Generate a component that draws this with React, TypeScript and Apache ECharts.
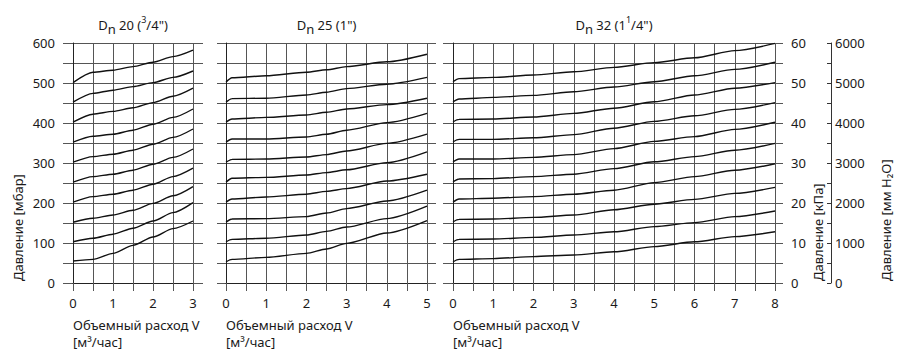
import React, { useEffect, useRef } from 'react';
import * as echarts from 'echarts';

// Flow rate V [m³/h] sample points per valve size
const FLOW_DN20 = [0, 0.5, 1, 1.5, 2, 2.5, 3];
const FLOW_DN25 = [0, 0.15, 1, 2, 2.5, 3, 4, 5];
const FLOW_DN32 = [0, 0.15, 1, 2, 3, 4, 5, 6, 7, 8];

// Pressure [mbar] curves (set points 500 … 50 mbar)
const DN20_P500 = [501, 527, 532, 541, 552, 566, 582];
const DN20_P450 = [452, 474, 482, 491, 501, 514, 530];
const DN20_P400 = [402, 422, 429, 438, 451, 467, 487];
const DN20_P350 = [352, 367, 372, 382, 397, 414, 435];
const DN20_P300 = [302, 316, 322, 332, 347, 364, 385];
const DN20_P250 = [252, 266, 272, 282, 297, 314, 335];
const DN20_P200 = [202, 216, 222, 232, 247, 266, 287];
const DN20_P150 = [152, 162, 170, 182, 199, 218, 241];
const DN20_P100 = [103, 112, 122, 137, 155, 176, 201];
const DN20_P50 = [55, 59, 74, 94, 115, 136, 155];

const DN25_P500 = [502, 513, 518, 527, 533, 541, 553, 572];
const DN25_P450 = [452, 461, 462, 470, 477, 486, 497, 514];
const DN25_P400 = [402, 410, 414, 420, 427, 435, 446, 462];
const DN25_P350 = [352, 360, 360, 365, 372, 382, 401, 424];
const DN25_P300 = [302, 309, 310, 315, 321, 330, 349, 372];
const DN25_P250 = [252, 262, 264, 270, 276, 283, 301, 328];
const DN25_P200 = [202, 210, 215, 222, 229, 236, 255, 272];
const DN25_P150 = [152, 160, 161, 166, 175, 186, 205, 232];
const DN25_P100 = [103, 109, 112, 120, 129, 140, 161, 192];
const DN25_P50 = [53, 59, 64, 74, 85, 99, 125, 156];

const DN32_P500 = [503, 511, 514, 520, 528, 539, 551, 563, 581, 599];
const DN32_P450 = [453, 460, 464, 469, 478, 490, 503, 518, 534, 552];
const DN32_P400 = [403, 409, 410, 415, 424, 437, 453, 470, 487, 501];
const DN32_P350 = [353, 359, 359, 363, 371, 387, 404, 418, 434, 451];
const DN32_P300 = [303, 310, 310, 314, 321, 336, 354, 366, 384, 402];
const DN32_P250 = [253, 260, 261, 266, 272, 286, 303, 316, 332, 349];
const DN32_P200 = [202, 210, 212, 216, 222, 232, 251, 266, 282, 298];
const DN32_P150 = [153, 159, 160, 164, 170, 183, 197, 209, 224, 239];
const DN32_P100 = [103, 109, 110, 114, 120, 128, 141, 151, 166, 180];
const DN32_P50 = [53, 59, 61, 66, 70, 78, 91, 103, 116, 128];

const DN20_CURVES = [DN20_P500, DN20_P450, DN20_P400, DN20_P350, DN20_P300, DN20_P250, DN20_P200, DN20_P150, DN20_P100, DN20_P50];
const DN25_CURVES = [DN25_P500, DN25_P450, DN25_P400, DN25_P350, DN25_P300, DN25_P250, DN25_P200, DN25_P150, DN25_P100, DN25_P50];
const DN32_CURVES = [DN32_P500, DN32_P450, DN32_P400, DN32_P350, DN32_P300, DN32_P250, DN32_P200, DN32_P150, DN32_P100, DN32_P50];

const X_MAX = [3, 5, 8];
const MBAR_MAX = 600;
const KPA_MAX = 60;
const MMH2O_MAX = 6000;

const TITLES = [
  '{n|D}{sub|n}{n| 20 (}{sup|3}{n|/4")}',
  '{n|D}{sub|n}{n| 25 (1")}',
  '{n|D}{sub|n}{n| 32 (1}{sup|1}{n|/4")}',
];
const X_NAME_1 = 'Объемный расход V';
const X_NAME_2 = '[м³/час]';
const Y_NAME_MBAR = 'Давление [мбар]';
const Y_NAME_KPA = 'Давление [кПа]';
const Y_NAME_MM = 'Давление [мм H₂O]';

const FONT = 'Noto Sans';
const TXT = '#1a1a1a';
const GRID_C = '#555';
const LINE_C = '#111';

export default function App() {
  const ref = useRef<HTMLDivElement>(null);

  useEffect(() => {
    document.body.style.margin = '0';
    if (!ref.current) return;
    const chart = echarts.init(ref.current, undefined, { renderer: 'svg' });

    const top = 43;
    const height = 240;
    const outer = [
      { left: 63, width: 140 },
      { left: 217, width: 219 },
      { left: 443, width: 340 },
    ];
    const inner = [
      { left: 73, width: 120 },
      { left: 226, width: 201 },
      { left: 453, width: 322 },
    ];
    const grids = [...outer, ...inner].map((g) => ({ ...g, top, height }));

    const xAxes: any[] = [];
    for (let i = 0; i < 3; i++) {
      xAxes.push({ type: 'value', gridIndex: i, min: 0, max: 1, show: false });
    }
    for (let i = 0; i < 3; i++) {
      xAxes.push({
        type: 'value',
        gridIndex: 3 + i,
        min: 0,
        max: X_MAX[i],
        interval: 0.5,
        axisLine: { show: true, lineStyle: { color: '#222', width: 1 } },
        axisTick: { show: true, length: 8, lineStyle: { color: GRID_C } },
        splitLine: { show: true, lineStyle: { color: GRID_C, width: 1 } },
        axisLabel: {
          margin: 13,
          color: TXT,
          fontSize: 13,
          fontFamily: FONT,
          formatter: (v: number) => (v % 1 === 0 ? String(v) : ''),
        },
      });
    }

    const yAxes: any[] = [];
    for (let i = 0; i < 3; i++) {
      yAxes.push({
        type: 'value',
        gridIndex: i,
        position: 'left',
        min: 0,
        max: MBAR_MAX,
        interval: 50,
        axisLine: { show: false },
        axisTick: { show: false },
        splitLine: { show: true, lineStyle: { color: GRID_C, width: 1 } },
        axisLabel: {
          show: i === 0,
          margin: 8,
          color: TXT,
          fontSize: 13,
          fontFamily: FONT,
          formatter: (v: number) => (v % 100 === 0 ? String(v) : ''),
        },
      });
    }
    for (let i = 0; i < 3; i++) {
      yAxes.push({
        type: 'value',
        gridIndex: 3 + i,
        min: 0,
        max: MBAR_MAX,
        interval: 50,
        axisLine: { show: true, lineStyle: { color: '#222', width: 1 } },
        axisTick: { show: false },
        axisLabel: { show: false },
        splitLine: { show: false },
      });
    }
    // kPa axis
    yAxes.push({
      type: 'value',
      gridIndex: 2,
      position: 'right',
      min: 0,
      max: KPA_MAX,
      interval: 10,
      axisLine: { show: false },
      axisTick: { show: false },
      splitLine: { show: false },
      axisLabel: { margin: 8, color: TXT, fontSize: 13, fontFamily: FONT },
    });
    // mm H2O axis
    yAxes.push({
      type: 'value',
      gridIndex: 2,
      position: 'right',
      offset: 48,
      min: 0,
      max: MMH2O_MAX,
      interval: 500,
      axisLine: { show: true, lineStyle: { color: '#333', width: 1 } },
      axisTick: { show: true, inside: true, length: 4, lineStyle: { color: '#333' } },
      splitLine: { show: false },
      axisLabel: {
        margin: 4,
        color: TXT,
        fontSize: 13,
        fontFamily: FONT,
        formatter: (v: number) => (v % 1000 === 0 ? String(v) : ''),
      },
    });

    const series: any[] = [];
    const panels = [
      { flow: FLOW_DN20, curves: DN20_CURVES },
      { flow: FLOW_DN25, curves: DN25_CURVES },
      { flow: FLOW_DN32, curves: DN32_CURVES },
    ];
    panels.forEach((p, pi) => {
      p.curves.forEach((c) => {
        series.push({
          type: 'line',
          xAxisIndex: 3 + pi,
          yAxisIndex: 3 + pi,
          data: p.flow.map((x, i) => [x, c[i]]),
          showSymbol: false,
          symbol: 'none',
          smooth: 0.25,
          smoothMonotone: 'x',
          silent: true,
          lineStyle: { color: LINE_C, width: 1.4 },
        });
      });
    });

    const titleRich = {
      n: { fontSize: 13, lineHeight: 20, fontFamily: FONT },
      sub: { fontSize: 13, lineHeight: 13, verticalAlign: 'bottom', fontFamily: FONT },
      sup: { fontSize: 9, lineHeight: 11, verticalAlign: 'top', fontFamily: FONT },
    };
    const graphic: any[] = [];
    inner.forEach((g, i) => {
      graphic.push({
        type: 'text',
        x: g.left + g.width / 2,
        y: 25,
        style: {
          text: TITLES[i],
          rich: titleRich,
          fill: TXT,
          fontSize: 13,
          fontFamily: FONT,
          align: 'center',
          verticalAlign: 'middle',
        },
      });
      graphic.push({
        type: 'text',
        x: g.left,
        y: 325,
        style: {
          text: X_NAME_1,
          fill: TXT,
          fontSize: 13,
          fontFamily: FONT,
          align: 'left',
          verticalAlign: 'middle',
        },
      });
      graphic.push({
        type: 'text',
        x: g.left,
        y: 342,
        style: {
          text: X_NAME_2,
          fill: TXT,
          fontSize: 13,
          fontFamily: FONT,
          align: 'left',
          verticalAlign: 'middle',
        },
      });
    });
    const vLabel = (x: number, text: string) => ({
      type: 'text',
      x,
      y: 281,
      rotation: Math.PI / 2,
      style: {
        text,
        fill: TXT,
        fontSize: 13,
        fontFamily: FONT,
        align: 'left',
        verticalAlign: 'middle',
      },
    });
    graphic.push(vLabel(18, Y_NAME_MBAR));
    graphic.push(vLabel(818, Y_NAME_KPA));
    graphic.push(vLabel(886, Y_NAME_MM));

    chart.setOption({
      animation: false,
      textStyle: { fontFamily: FONT },
      grid: grids,
      xAxis: xAxes,
      yAxis: yAxes,
      series,
      graphic,
    });

    return () => chart.dispose();
  }, []);

  return <div ref={ref} style={{ width: 900, height: 352 }} />;
}
